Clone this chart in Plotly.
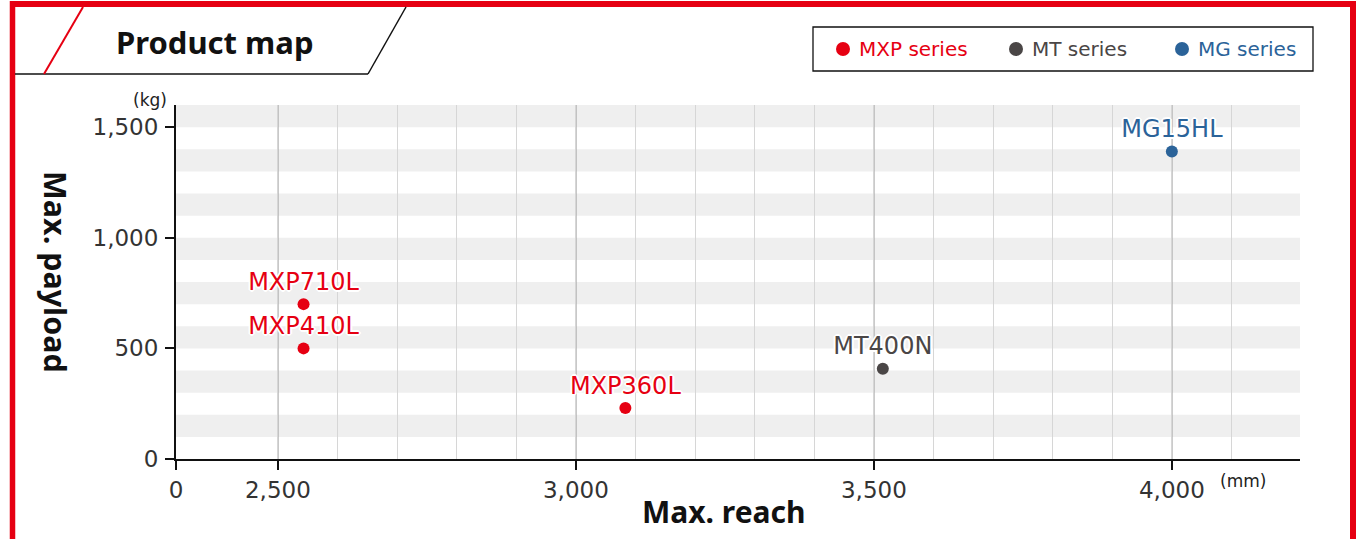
import plotly.graph_objects as go

# ---------------- data ----------------
mxp_names = ["MXP710L", "MXP410L", "MXP360L"]
mxp_reach = [2543, 2543, 3083]
mxp_payload = [700, 500, 230]

mt_names = ["MT400N"]
mt_reach = [3515]
mt_payload = [408]

mg_names = ["MG15HL"]
mg_reach = [4000]
mg_payload = [1390]

series_labels = ["MXP series", "MT series", "MG series"]
series_colors = ["#e60012", "#4a4646", "#2b6399"]

x_tick_vals = [2329, 2500, 3000, 3500, 4000]   # "0" sits at an axis break
x_tick_text = ["0", "2,500", "3,000", "3,500", "4,000"]
x_minor_vals = [v for v in range(2600, 4200, 100) if v % 500 != 0]
x_major_grid = [2500, 3000, 3500, 4000]
y_tick_vals = [0, 500, 1000, 1500]
y_tick_text = ["0", "500", "1,000", "1,500"]
stripe_bands = [(lo, lo + 100) for lo in range(100, 1600, 200)]

x_range = [2329, 4215]
y_range = [0, 1600]

# ---------------- layout helpers ----------------
W, H = 1356, 539
L, R, T, B = 176, 1300, 105, 459
PW, PH = R - L, B - T


def px(x):
    return (x - L) / PW


def py(y):
    return (B - y) / PH


FONT = "DejaVu Sans"
BOLD = "Noto Sans"
RED = "#e60012"
HALO = ", ".join(f"{a}px {b}px 0 #fff" for a, b in
                 [(1, 1), (-1, -1), (1, -1), (-1, 1), (0, 2), (0, -2), (2, 0), (-2, 0)])

fig = go.Figure()

for names, xs, ys, col in [
    (mxp_names, mxp_reach, mxp_payload, series_colors[0]),
    (mt_names, mt_reach, mt_payload, series_colors[1]),
    (mg_names, mg_reach, mg_payload, series_colors[2]),
]:
    fig.add_trace(go.Scatter(
        x=xs, y=ys, text=names, mode="markers+text",
        textposition="top center",
        marker=dict(size=12, color=col),
        textfont=dict(family=FONT, size=24, color=col, shadow=HALO),
        showlegend=False, hoverinfo="skip", cliponaxis=False,
    ))

shapes = []
# horizontal stripes
for lo, hi in stripe_bands:
    shapes.append(dict(type="rect", xref="paper", yref="y", x0=0, x1=1, y0=lo, y1=hi,
                       fillcolor="#efefef", line=dict(width=0), layer="below"))

# red frame
shapes += [
    dict(type="line", xref="paper", yref="paper", x0=px(12.5), x1=px(12.5), y0=py(1), y1=py(560),
         line=dict(color=RED, width=5.5)),
    dict(type="line", xref="paper", yref="paper", x0=px(1353), x1=px(1353), y0=py(1), y1=py(560),
         line=dict(color=RED, width=6)),
    dict(type="line", xref="paper", yref="paper", x0=px(10), x1=px(1356), y0=py(4), y1=py(4),
         line=dict(color=RED, width=6)),
]
# title tab
shapes += [
    dict(type="line", xref="paper", yref="paper", x0=px(15), x1=px(368), y0=py(74), y1=py(74),
         line=dict(color="#111", width=1.5)),
    dict(type="line", xref="paper", yref="paper", x0=px(368), x1=px(406), y0=py(74), y1=py(7),
         line=dict(color="#111", width=1.5)),
    dict(type="line", xref="paper", yref="paper", x0=px(44), x1=px(83), y0=py(74), y1=py(7),
         line=dict(color=RED, width=2)),
]
# legend box
shapes.append(dict(type="rect", xref="paper", yref="paper", x0=px(813), x1=px(1313),
                   y0=py(71), y1=py(27), line=dict(color="#111", width=1.3), fillcolor="white"))

annotations = []
legend_dot_x = [843, 1016, 1182]
for lab, col, dx in zip(series_labels, series_colors, legend_dot_x):
    shapes.append(dict(type="circle", xref="paper", yref="paper", xsizemode="pixel", ysizemode="pixel",
                       xanchor=px(dx), yanchor=py(49), x0=-7, x1=7, y0=-7, y1=7,
                       fillcolor=col, line=dict(width=0)))
    annotations.append(dict(text=lab, xref="paper", yref="paper", x=px(dx + 14), y=py(49),
                            xanchor="left", yanchor="middle", showarrow=False,
                            font=dict(family=FONT, size=20, color=col)))

annotations += [
    dict(text="<b>Product map</b>", xref="paper", yref="paper", x=px(215), y=py(42),
         xanchor="center", yanchor="middle", showarrow=False,
         font=dict(family=BOLD, size=31, color="#111")),
    dict(text="<b>Max. reach</b>", xref="paper", yref="paper", x=px(724), y=py(511),
         xanchor="center", yanchor="middle", showarrow=False,
         font=dict(family=BOLD, size=30, color="#111")),
    dict(text="<b>Max. payload</b>", xref="paper", yref="paper", x=px(56), y=py(272),
         xanchor="center", yanchor="middle", showarrow=False, textangle=90,
         font=dict(family=BOLD, size=30.5, color="#111")),
    dict(text="(kg)", xref="paper", yref="paper", x=px(150), y=py(100),
         xanchor="center", yanchor="middle", showarrow=False,
         font=dict(family=FONT, size=17, color="#222")),
    dict(text="(mm)", xref="paper", yref="paper", x=px(1243), y=py(481),
         xanchor="center", yanchor="middle", showarrow=False,
         font=dict(family=FONT, size=17, color="#222")),
]

fig.update_layout(
    width=W, height=H,
    margin=dict(l=L, r=W - R, t=T, b=H - B, autoexpand=False),
    paper_bgcolor="white", plot_bgcolor="rgba(0,0,0,0)",
    shapes=shapes, annotations=annotations, showlegend=False,
    font=dict(family=FONT, color="#333"),
)
fig.update_xaxes(
    range=x_range, tickmode="array", tickvals=x_tick_vals, ticktext=x_tick_text,
    showgrid=False, zeroline=False,
    showline=True, linecolor="#111", linewidth=2,
    ticks="outside", ticklen=9, tickwidth=2, tickcolor="#111",
    tickfont=dict(family=FONT, size=23, color="#333"),
    minor=dict(tickmode="array", tickvals=x_minor_vals + x_major_grid, showgrid=True,
               gridcolor="#d6d6d6", gridwidth=1, ticks=""),
)
fig.update_yaxes(
    range=y_range, tickmode="array", tickvals=y_tick_vals, ticktext=y_tick_text,
    showgrid=False, zeroline=False,
    showline=True, linecolor="#111", linewidth=2,
    ticks="outside", ticklen=9, tickwidth=2, tickcolor="#111",
    tickfont=dict(family=FONT, size=23, color="#333"),
    ticklabelstandoff=2,
)
# darker major vertical grid lines
for xv in x_major_grid:
    fig.add_shape(type="line", xref="x", yref="paper", x0=xv, x1=xv, y0=0, y1=1,
                  line=dict(color="#ababab", width=1.5), layer="between")

fig.write_html("out.html", config={"displayModeBar": False, "staticPlot": True},
               post_script="document.body.style.margin='0';document.body.style.overflow='hidden';")
